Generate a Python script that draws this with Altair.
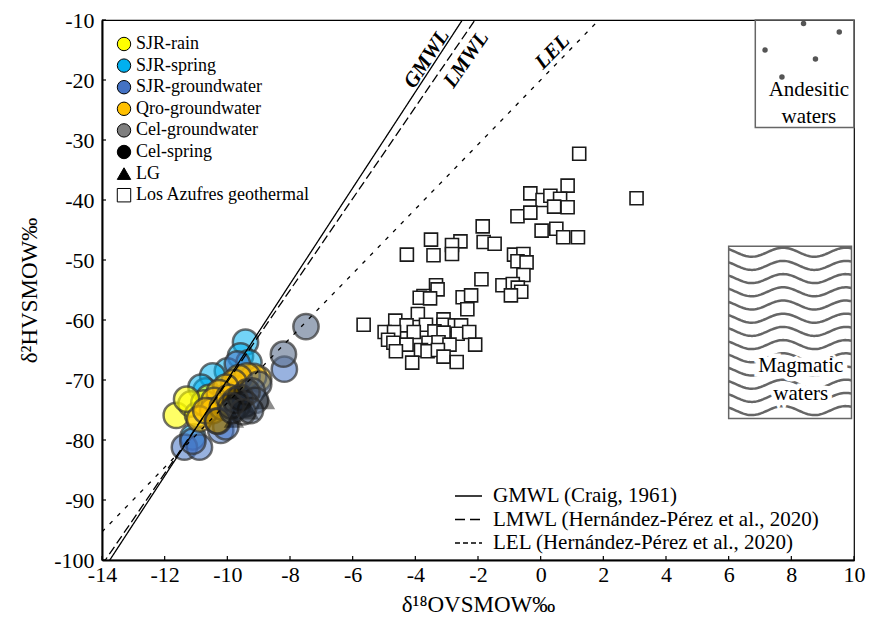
import altair as alt
import pandas as pd
import numpy as np

FONT = "Liberation Serif, Times New Roman, serif"

# ---------------- data ----------------
groups = ["SJR-rain", "SJR-spring", "SJR-groundwater", "Qro-groundwater",
          "Cel-groundwater", "Cel-spring", "LG", "Los Azufres geothermal"]
legend_colors = ["#ffff00", "#00b0f0", "#4472c4", "#ffc000",
                 "#7f7f7f", "#000000", "#000000", "#ffffff"]
legend_shapes = ["circle", "circle", "circle", "circle",
                 "circle", "circle", "triangle-up", "square"]

spring_x = [-9.42, -9.58, -9.31, -10.0, -10.47, -10.69, -10.84, -11.1]
spring_y = [-63.7, -66.0, -67.1, -68.5, -69.3, -71.8, -71.2, -79.5]

rain_x = [-11.63, -11.16, -10.95, -10.58, -10.75, -11.3]
rain_y = [-75.9, -74.0, -75.8, -72.9, -73.8, -73.2]

gw_x = [-11.37, -10.89, -11.1, -10.21, -10.05, -8.18, -9.68]
gw_y = [-81.2, -81.2, -80.2, -78.4, -77.8, -68.2, -67.3]

qro_x = [-9.0, -9.16, -9.37, -9.63, -9.79, -10.05, -10.26, -10.42,
         -10.47, -10.89, -10.69, -10.16, -9.95, -10.32]
qro_y = [-69.8, -69.4, -69.3, -69.6, -70.4, -71.2, -72.1, -73.4,
         -75.1, -76.5, -75.1, -74.5, -72.9, -76.8]

celgw_x = [-7.49, -8.21, -9.0, -9.21, -9.1, -9.42, -9.68, -9.84, -9.26]
celgw_y = [-61.1, -65.7, -70.7, -71.8, -73.4, -74.0, -74.3, -75.1, -75.1]

celsp_x = [-9.37, -9.58, -9.74, -9.89, -9.5, -10.3]
celsp_y = [-72.0, -72.9, -73.4, -74.3, -75.3, -76.9]

lg_x = [-8.8, -9.31, -9.79]
lg_y = [-73.4, -75.1, -76.5]

azufres_x = [1.23, 0.86, -0.33, 0.06, 0.31, 0.62, 0.43, 0.86, 3.06, -0.74,
             -0.33, -1.85, 0.03, 0.50, 0.72, 1.19, -3.50, -2.56, -2.83, -1.82,
             -1.47, -4.27, -3.42, -2.83, -0.85, -0.55, -0.74, -0.45, -0.55, -1.89,
             -1.22, -0.89, -0.73, -0.62, -0.95, -3.34, -3.29, -3.74, -3.86, -3.53,
             -2.49, -2.22, -2.34, -3.92, -4.64, -4.28, -3.66, -3.10, -3.10, -2.74,
             -2.54, -4.98, -4.68, -4.05, -3.39, -3.10, -2.65, -2.28, -4.87, -4.70,
             -4.28, -3.58, -3.26, -2.91, -2.09, -4.62, -3.82, -3.61, -3.28, -3.10,
             -4.10, -2.68, -5.65]
azufres_y = [-32.3, -37.6, -38.9, -40.0, -39.3, -39.8, -41.1, -41.2, -39.7, -42.7,
             -42.1, -44.4, -45.1, -44.8, -46.2, -46.2, -46.6, -46.9, -47.5, -47.0,
             -47.3, -49.1, -49.2, -49.0, -49.1, -49.0, -50.2, -50.4, -52.5, -53.2,
             -54.2, -54.0, -54.6, -55.3, -55.9, -54.2, -54.9, -56.0, -56.3, -56.4,
             -56.2, -55.9, -58.2, -59.0, -60.1, -60.9, -60.8, -59.9, -60.8, -60.9,
             -60.9, -62.0, -62.0, -62.0, -61.9, -62.1, -62.3, -62.0, -63.3, -63.8,
             -64.1, -63.8, -63.7, -64.1, -64.1, -65.2, -65.0, -65.2, -65.0, -66.1,
             -67.1, -67.0, -60.8]

# reference lines: slope, intercept
line_names = ["GMWL (Craig, 1961)", "LMWL (Hernández-Pérez et al., 2020)",
              "LEL (Hernández-Pérez et al., 2020)"]
line_slopes = [8.0, 7.63, 5.38]
line_intercepts = [10.0, 6.0, -20.0]
line_dashes = [[1, 0], [9, 4], [4, 7]]
legend_dashes = [[1, 0], [10, 5], [5, 3]]
line_labels = ["GMWL", "LMWL", "LEL"]
line_label_x = [-3.63, -2.37, 0.38]
line_label_y = [-16.5, -16.6, -15.3]
line_label_angle = [303.3, 304.6, 314.5]

x_ticks = [-14, -12, -10, -8, -6, -4, -2, 0, 2, 4, 6, 8, 10]
y_ticks = [-100, -90, -80, -70, -60, -50, -40, -30, -20, -10]

# annotation boxes
andes_box = dict(x=6.85, x2=10.0, y=-10.0, y2=-27.9)
andes_dots_x = [8.39, 9.53, 7.16, 8.77, 7.70]
andes_dots_y = [-10.6, -12.0, -15.0, -16.5, -19.5]
andes_text = ["Andesitic", "waters"]
andes_text_y = [-21.6, -26.1]
magma_box = dict(x=6.0, x2=9.92, y=-47.7, y2=-76.4)
magma_text = ["Magmatic", "waters"]
magma_text_y = [-67.6, -72.3]

# ---------------- tables ----------------
tri = pd.DataFrame({"group": "LG", "x": lg_x, "y": lg_y})
sq = pd.DataFrame({"group": "Los Azufres geothermal", "x": azufres_x, "y": azufres_y})
circ_series = [("SJR-spring", spring_x, spring_y, "#00b0f0", 0.55),
               ("SJR-rain", rain_x, rain_y, "#ffff00", 0.6),
               ("SJR-groundwater", gw_x, gw_y, "#4472c4", 0.55),
               ("Qro-groundwater", qro_x, qro_y, "#ffc000", 0.6),
               ("Cel-groundwater", celgw_x, celgw_y, "#5a6e8c", 0.6),
               ("Cel-spring", celsp_x, celsp_y, "#000000", 0.25)]
allpts = pd.concat([pd.DataFrame({"group": n, "x": xs, "y": ys})
                    for n, xs, ys, _, _ in circ_series] + [tri, sq])

lines_rows = []
for n, s, b in zip(line_names, line_slopes, line_intercepts):
    for xv in (-14.0, 10.0):
        lines_rows.append({"name": n, "x": xv, "y": s * xv + b})
lines_df = pd.DataFrame(lines_rows)

labels_df = pd.DataFrame({"t": line_labels, "x": line_label_x, "y": line_label_y,
                          "a": line_label_angle})

# wavy hatch for the magmatic box (decorative pattern)
wave_rows = []
xs_w = np.linspace(magma_box["x"], magma_box["x2"], 80)
for i in range(13):
    y0 = magma_box["y"] - 1.0 - i * 2.2
    for xv in xs_w:
        wave_rows.append({"k": i, "x": xv,
                          "y": y0 + 0.75 * np.sin(2 * np.pi * (xv - magma_box["x"]) / 2.0 + 2.4)})
waves = pd.DataFrame(wave_rows)

# ---------------- encodings ----------------
H = 540
xscale = alt.Scale(domain=[-14, 10], nice=False, zero=False)
yscale = alt.Scale(domain=[-100, -10], nice=False, zero=False)
xaxis = alt.Axis(values=x_ticks, title="δ¹⁸OVSMOW‰", labelExpr="'' + datum.value",
                 ticks=False, grid=False, domainColor="black", domainWidth=2,
                 labelFont=FONT, labelFontSize=22, labelColor="black", labelPadding=4,
                 labelFlush=False, labelOverlap=False,
                 titleFont=FONT, titleFontSize=23, titleFontWeight="normal",
                 titleColor="black", titlePadding=8)
yaxis = alt.Axis(values=y_ticks, title="δ²HVSMOW‰", labelExpr="'' + datum.value",
                 ticks=False, grid=False, domainColor="black", domainWidth=2,
                 labelFont=FONT, labelFontSize=22, labelColor="black", labelPadding=8,
                 labelFlush=False, labelOverlap=False,
                 titleFont=FONT, titleFontSize=23, titleFontWeight="normal",
                 titleColor="black", titlePadding=12)


def X(f="x"):
    return alt.X(f"{f}:Q", scale=xscale, axis=xaxis)


def Y(f="y"):
    return alt.Y(f"{f}:Q", scale=yscale, axis=yaxis)


base_leg = alt.Legend(orient="none", legendX=13, legendY=15, title=None,
                      labelFont=FONT, labelFontSize=18, labelColor="black",
                      symbolSize=180, symbolStrokeColor="black", symbolStrokeWidth=1,
                      symbolOpacity=1, rowPadding=3.6, labelOffset=3, padding=0,
                      labelLimit=0)

layers = []

# andesitic box
layers.append(alt.Chart(pd.DataFrame([andes_box])).mark_rect(
    fillOpacity=0, stroke="#666666", strokeWidth=1.5).encode(
    x=X(), x2="x2:Q", y=Y(), y2="y2:Q"))
layers.append(alt.Chart(pd.DataFrame({"x": andes_dots_x, "y": andes_dots_y})).mark_point(
    filled=True, color="#555555", size=30, opacity=1, clip=True).encode(x=X(), y=Y()))
layers.append(alt.Chart(pd.DataFrame({"t": andes_text, "x": 8.56, "y": andes_text_y})).mark_text(
    font=FONT, fontSize=21, color="black").encode(x=X(), y=Y(), text="t:N"))

# magmatic box
layers.append(alt.Chart(pd.DataFrame([magma_box])).mark_rect(
    fillOpacity=0, stroke="#666666", strokeWidth=1.5).encode(
    x=X(), x2="x2:Q", y=Y(), y2="y2:Q"))
layers.append(alt.Chart(waves).mark_line(color="#666666", strokeWidth=2.5).encode(
    x=X(), y=Y(), detail="k:N"))
mtext = pd.DataFrame({"t": magma_text, "x": 8.3, "y": magma_text_y})
layers.append(alt.Chart(mtext).mark_text(font=FONT, fontSize=21, color="white",
                                         stroke="white", strokeWidth=9).encode(
    x=X(), y=Y(), text="t:N"))
layers.append(alt.Chart(mtext).mark_text(font=FONT, fontSize=21, color="black").encode(
    x=X(), y=Y(), text="t:N"))

# points
layers.append(alt.Chart(sq).mark_point(shape="square", filled=True, fill="white",
                                       stroke="#1a1a1a", strokeWidth=1.6, size=170,
                                       opacity=1).encode(x=X(), y=Y()))
for n, xs, ys, col, op in circ_series:
    layers.append(alt.Chart(pd.DataFrame({"x": xs, "y": ys})).mark_point(
        shape="circle", filled=True, size=640, fill=col, fillOpacity=op,
        stroke="#333333", strokeWidth=2.5, strokeOpacity=0.7).encode(x=X(), y=Y()))
layers.append(alt.Chart(tri).mark_point(shape="triangle-up", filled=True, size=420,
                                        color="#000000", opacity=0.45).encode(x=X(), y=Y()))

# invisible layer carrying the symbol legend
layers.append(alt.Chart(allpts).mark_point(filled=True, opacity=0).encode(
    x=X(), y=Y(),
    fill=alt.Fill("group:N", scale=alt.Scale(domain=groups, range=legend_colors),
                  legend=base_leg, sort=groups),
    shape=alt.Shape("group:N", scale=alt.Scale(domain=groups, range=legend_shapes),
                    legend=base_leg, sort=groups),
    stroke=alt.Stroke("group:N", scale=alt.Scale(domain=groups, range=["#000000"] * 8),
                      legend=base_leg, sort=groups)))

# reference lines
for n, dash in zip(line_names, line_dashes):
    layers.append(alt.Chart(lines_df[lines_df["name"] == n]).mark_line(
        color="black", strokeWidth=1.3, clip=True, strokeDash=dash).encode(x=X(), y=Y()))
layers.append(alt.Chart(labels_df).mark_text(font=FONT, fontSize=21, fontStyle="italic",
                                             fontWeight="bold", color="black").encode(
    x=X(), y=Y(), text="t:N", angle=alt.Angle("a:Q", scale=None)))

# line legend (bottom right)
for i, (n, dash) in enumerate(zip(line_names, legend_dashes)):
    ypx = 476 + i * 23.5
    layers.append(alt.Chart(pd.DataFrame({"v": [0]})).mark_rule(
        color="black", strokeWidth=1.3, strokeDash=dash).encode(
        x=alt.value(353), x2=alt.value(380), y=alt.value(ypx)))
    layers.append(alt.Chart(pd.DataFrame({"v": [0]})).mark_text(
        font=FONT, fontSize=21, color="black", align="left", baseline="middle").encode(
        x=alt.value(391), y=alt.value(ypx), text=alt.value(n)))

# inward ticks
layers.append(alt.Chart(pd.DataFrame({"x": x_ticks})).mark_rule(color="black", strokeWidth=1.2).encode(
    x=X(), y=alt.value(H), y2=alt.value(H - 4)))
layers.append(alt.Chart(pd.DataFrame({"y": y_ticks})).mark_rule(color="black", strokeWidth=1.2).encode(
    y=Y(), x=alt.value(0), x2=alt.value(4)))

chart = alt.layer(*layers).properties(
    width=752, height=H,
    autosize=alt.AutoSizeParams(type="none"),
    padding={"left": 94, "top": 12, "right": 12, "bottom": 55},
    background="white"
).configure_view(stroke="black", strokeWidth=1.2)

chart.save("out.html", embed_options={"renderer": "svg", "actions": False})
